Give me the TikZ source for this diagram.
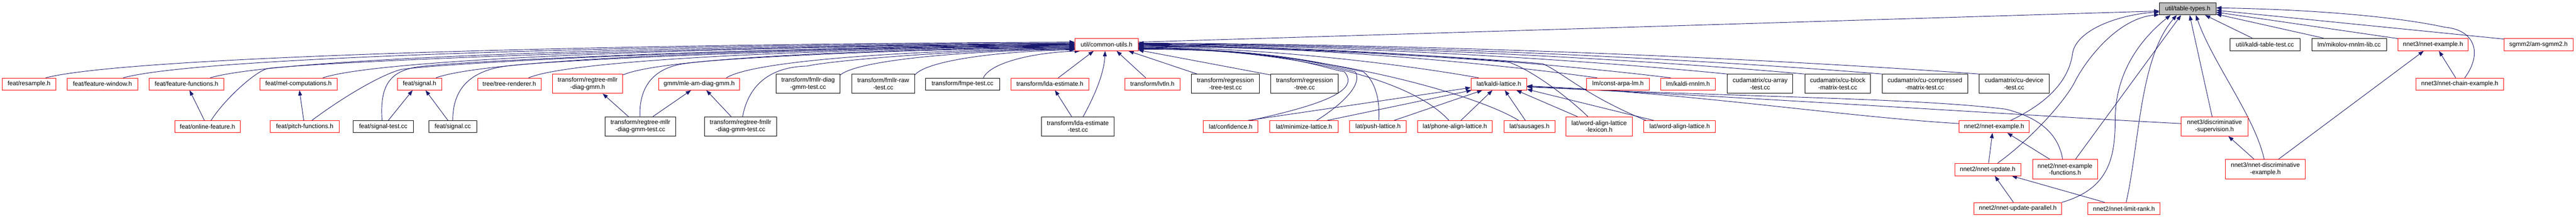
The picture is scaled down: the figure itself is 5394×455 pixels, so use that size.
\documentclass[tikz,border=0pt]{standalone}
\usepackage{fontspec}
\setmainfont{Liberation Sans}
\usetikzlibrary{arrows.meta,backgrounds,calc}
\definecolor{mblue}{HTML}{191970}
\definecolor{boxred}{HTML}{FF0000}
\definecolor{grayfill}{HTML}{BFBFBF}
\tikzset{
  base/.style={draw, line width=1pt, inner sep=0pt, fill=white, align=center,
    font=\fontsize{13}{15}\selectfont, minimum height=25pt},
  rbox/.style={base, draw=boxred},
  kbox/.style={base, draw=black},
  gbox/.style={base, draw=black, fill=grayfill},
  two/.style={minimum height=40pt},
  edge/.style={draw=mblue, line width=1pt, -{Triangle[length=11pt,width=8pt]}},
  fan/.style 2 args={to path={let \p1=(\tikztostart), \p2=(\tikztotarget) in
     .. controls ({\x1+#1*(\x2-\x1)},{\y1+#2*(\y2-\y1)}) and ({\x2-0.45*(\x2-\x1)},{\y2-0.05*(\y2-\y1)}) .. (\p2)}},
}
\begin{document}
\begin{tikzpicture}[x=1pt,y=-1pt]
\useasboundingbox (0,0) rectangle (5394,455);
% row A
\node[gbox, minimum width=118pt] (tt) at (4581,18.5) {util/table-types.h};
% row B
\node[rbox, minimum width=132pt, minimum height=26pt] (cu) at (2317,93) {util/common-utils.h};
\node[kbox, minimum width=147pt, minimum height=26pt] (ktt) at (4742.5,93) {util/kaldi-table-test.cc};
\node[kbox, minimum width=156pt, minimum height=26pt] (mik) at (4919,93) {lm/mikolov-rnnlm-lib.cc};
\node[rbox, minimum width=147pt, minimum height=26pt] (n3ex) at (5094.5,93) {nnet3/nnet-example.h};
\node[rbox, minimum width=145pt, minimum height=26pt] (sgmm) at (5315.5,93) {sgmm2/am-sgmm2.h};
% row C
\node[rbox, minimum width=112.5pt] (resample) at (60.75,175.5) {feat/resample.h};
\node[rbox, minimum width=147pt] (fwin) at (214.5,175.5) {feat/feature-window.h};
\node[rbox, minimum width=157pt] (ffun) at (390.5,175.5) {feat/feature-functions.h};
\node[rbox, minimum width=162pt] (mel) at (625,175.5) {feat/mel-computations.h};
\node[rbox, minimum width=93pt] (sigh) at (878.5,175.5) {feat/signal.h};
\node[rbox, minimum width=133pt] (tree) at (1066.5,175.5) {tree/tree-renderer.h};
\node[rbox, two, minimum width=147pt] (rmllr) at (1230.5,175) {transform/regtree-mllr\\-diag-gmm.h};
\node[rbox, minimum width=170pt] (mleam) at (1464,175.5) {gmm/mle-am-diag-gmm.h};
\node[kbox, two, minimum width=134pt] (fdiag) at (1692,175) {transform/fmllr-diag\\-gmm-test.cc};
\node[kbox, two, minimum width=131pt] (fraw) at (1849.5,175) {transform/fmllr-raw\\-test.cc};
\node[kbox, minimum width=155pt] (fmpe) at (2015.5,175.5) {transform/fmpe-test.cc};
\node[rbox, minimum width=163pt] (lda) at (2198.5,175.5) {transform/lda-estimate.h};
\node[rbox, minimum width=116pt] (lvtln) at (2413,175.5) {transform/lvtln.h};
\node[kbox, two, minimum width=142pt] (rtt) at (2566,175) {transform/regression\\-tree-test.cc};
\node[kbox, two, minimum width=141pt] (rtc) at (2731.5,175) {transform/regression\\-tree.cc};
\node[rbox, minimum width=117pt] (kl) at (3138.5,175.5) {lat/kaldi-lattice.h};
\node[rbox, minimum width=132pt] (carpa) at (3388,175.5) {lm/const-arpa-lm.h};
\node[rbox, minimum width=115pt] (krnn) at (3534.5,175.5) {lm/kaldi-rnnlm.h};
\node[kbox, two, minimum width=137pt] (cuarr) at (3685.5,175) {cudamatrix/cu-array\\-test.cc};
\node[kbox, two, minimum width=138pt] (cublk) at (3848,175) {cudamatrix/cu-block\\-matrix-test.cc};
\node[kbox, two, minimum width=179pt] (cucmp) at (4030.5,175) {cudamatrix/cu-compressed\\-matrix-test.cc};
\node[kbox, two, minimum width=147pt] (cudev) at (4217.5,175) {cudamatrix/cu-device\\-test.cc};
\node[rbox, minimum width=183pt] (chain) at (5150.5,175.5) {nnet3/nnet-chain-example.h};
% row D
\node[rbox, minimum width=137pt] (onl) at (434.5,264.5) {feat/online-feature.h};
\node[rbox, minimum width=144pt] (pitch) at (638,264.5) {feat/pitch-functions.h};
\node[kbox, minimum width=127pt] (sigt) at (802.5,264.5) {feat/signal-test.cc};
\node[kbox, minimum width=100pt] (sigc) at (948,264.5) {feat/signal.cc};
\node[kbox, two, minimum width=148pt] (rmllrt) at (1341,264) {transform/regtree-mllr\\-diag-gmm-test.cc};
\node[kbox, two, minimum width=151pt] (rfmllrt) at (1550.5,264) {transform/regtree-fmllr\\-diag-gmm-test.cc};
\node[kbox, two, minimum width=152pt] (ldat) at (2257,264) {transform/lda-estimate\\-test.cc};
\node[rbox, minimum width=114pt] (conf) at (2577,264.5) {lat/confidence.h};
\node[rbox, minimum width=143pt] (mini) at (2730.5,264.5) {lat/minimize-lattice.h};
\node[rbox, minimum width=119pt] (push) at (2885.5,264.5) {lat/push-lattice.h};
\node[rbox, minimum width=157pt] (phone) at (3046.5,264.5) {lat/phone-align-lattice.h};
\node[rbox, minimum width=107pt] (saus) at (3202.5,264.5) {lat/sausages.h};
\node[rbox, two, minimum width=139pt] (wall) at (3348.5,264) {lat/word-align-lattice\\-lexicon.h};
\node[rbox, minimum width=150pt] (wal) at (3517,264.5) {lat/word-align-lattice.h};
\node[rbox, minimum width=147pt] (n2ex) at (4175.5,264.5) {nnet2/nnet-example.h};
\node[rbox, two, minimum width=140pt] (disc) at (4637,264) {nnet3/discriminative\\-supervision.h};
% row E
\node[rbox, minimum width=138pt, minimum height=26pt] (upd) at (4162,354) {nnet2/nnet-update.h};
\node[rbox, minimum width=136pt, minimum height=41pt] (exf) at (4324,353.5) {nnet2/nnet-example\\-functions.h};
\node[rbox, minimum width=167pt, minimum height=41pt] (dex) at (4743.5,353.5) {nnet3/nnet-discriminative\\-example.h};
% row F
\node[rbox, minimum width=184pt] (par) at (4225,435.5) {nnet2/nnet-update-parallel.h};
\node[rbox, minimum width=151pt] (lrk) at (4447.5,435.5) {nnet2/nnet-limit-rank.h};

\begin{scope}[on background layer]
% left fan into common-utils
\draw[edge] ([xshift=35pt]resample.north) to[fan={0.08}{0.6}] ([yshift=5pt]cu.west);
\draw[edge] ([xshift=43.5pt]fwin.north) to[fan={0.08}{0.6}] ([yshift=3.5pt]cu.west);
\draw[edge] ([xshift=49.5pt]ffun.north) to[fan={0.08}{0.6}] ([yshift=2pt]cu.west);
\draw[edge] ([xshift=7.5pt]onl.north) .. controls +(25,-40) and +(-30,9) .. (560,143) to[fan={0.08}{0.3}] ([yshift=1pt]cu.west);
\draw[edge] ([xshift=51pt]mel.north) to[fan={0.08}{0.6}] (cu.west);
\draw[edge] ([xshift=15pt]pitch.north) .. controls +(60,-45) and +(-45,12) .. (840,145) to[fan={0.08}{0.3}] ([yshift=-1pt]cu.west);
\draw[edge] ([xshift=-2.5pt]sigt.north) .. controls +(-5,-72) and +(-65,8) .. (880,139) to[fan={0.08}{0.3}] ([yshift=-2pt]cu.west);
\draw[edge] ([xshift=34.5pt]sigh.north) to[fan={0.08}{0.6}] ([yshift=-3pt]cu.west);
\draw[edge] (sigc.north) .. controls +(0,-67) and +(-75,10) .. (1060,138) to[fan={0.08}{0.3}] ([yshift=-4pt]cu.west);
\draw[edge] ([xshift=40.5pt]tree.north) to[fan={0.08}{0.6}] ([yshift=-5pt]cu.west);
\draw[edge] ([yshift=-2pt]rmllr.north east) to[fan={0.08}{0.6}] ([yshift=-6pt]cu.west);
\draw[edge] ([xshift=-1pt]rmllrt.north) .. controls +(-2,-59) and +(-75,8) .. (1440,132) to[fan={0.08}{0.3}] ([yshift=-7pt]cu.west);
\draw[edge] ([xshift=57pt]mleam.north) to[fan={0.08}{0.6}] ([yshift=-8pt]cu.west);
\draw[edge] ([xshift=4.5pt]rfmllrt.north) .. controls +(10,-54) and +(-90,2) .. (1690,138) to[fan={0.08}{0.3}] ([yshift=-9pt]cu.west);
\draw[edge] ([yshift=-2pt]fdiag.north east) to[fan={0.08}{0.6}] ([yshift=-10pt]cu.west);
\draw[edge] ([yshift=-2pt]fraw.north east) to[fan={0.08}{0.6}] ([yshift=-11pt]cu.west);
\draw[edge] ([xshift=43.5pt]fmpe.north) to[fan={0.08}{0.6}] ([xshift=11pt]cu.south west);
% below common-utils
\draw[edge] ([xshift=17.5pt]lda.north) -- ([xshift=-27pt]cu.south);
\draw[edge] ([xshift=-13pt]ldat.north) -- ([xshift=10.5pt]lda.south);
\draw[edge] ([xshift=11pt]ldat.north) .. controls +(27,-49) and +(-2,44) .. ([xshift=-3pt]cu.south);
\draw[edge] ([xshift=-14pt]lvtln.north) -- ([xshift=21pt]cu.south);
\draw[edge] ([xshift=12pt]rtt.north west) -- ([xshift=46pt]cu.south);
\draw[edge] ([yshift=-2pt]rtc.north west) -- ([yshift=2pt]cu.south east);
% right fan into common-utils
\draw[edge] ([xshift=-42.5pt]kl.north) to[fan={0.15}{0.3}] ([yshift=-5pt]cu.east);
\draw[edge] ([xshift=-44pt]carpa.north) to[fan={0.15}{0.3}] ([yshift=-2pt]cu.east);
\draw[edge] ([xshift=-36.5pt]krnn.north) to[fan={0.15}{0.3}] ([yshift=-1pt]cu.east);
\draw[edge] (cuarr.north west) to[fan={0.15}{0.3}] (cu.east);
\draw[edge] (cublk.north west) to[fan={0.15}{0.3}] ([yshift=1pt]cu.east);
\draw[edge] (cucmp.north west) to[fan={0.15}{0.3}] ([yshift=2pt]cu.east);
\draw[edge] (cudev.north west) to[fan={0.15}{0.3}] ([yshift=3pt]cu.east);
\draw[edge] ([yshift=5pt]cu.east) -- ([yshift=-4.5pt]tt.west);
\draw[edge] ([xshift=5pt]wal.north west) .. controls +(-127,-52) and +(40,17) .. (3230,133) to[fan={0.1}{0.2}] ([yshift=-3pt]cu.east);
\draw[edge] ([xshift=-23.5pt]wall.north) .. controls +(-35,-34) and +(55,20) .. (3160,130) to[fan={0.1}{0.2}] ([yshift=-4pt]cu.east);
\draw[edge] ([xshift=-22.5pt]saus.north) .. controls +(-80,-50) and +(400,5) .. ([yshift=-6pt]cu.east);
\draw[edge] ([xshift=-12.5pt]phone.north) .. controls +(-74,-82) and +(350,5) .. ([yshift=-7pt]cu.east);
\draw[edge] ([xshift=1.5pt]push.north) .. controls +(3,-42) and +(25,20) .. (2855,150) .. controls +(-60,-12) and +(280,0) .. ([yshift=-8pt]cu.east);
\draw[edge] ([xshift=26.5pt]mini.north) .. controls +(43,-27) and +(17,30) .. (2838,150) .. controls +(-50,-12) and +(280,0) .. ([yshift=-9pt]cu.east);
\draw[edge] ([xshift=41pt]conf.north) .. controls +(172,-37) and +(30,35) .. (2815,150) .. controls +(-60,-12) and +(300,0) .. ([yshift=-10pt]cu.east);
% into kaldi-lattice
\draw[edge] ([xshift=36pt]conf.north) -- ([yshift=-7.5pt]kl.west);
\draw[edge] ([xshift=48.5pt]mini.north) -- ([xshift=2pt]kl.south west);
\draw[edge] ([xshift=33.5pt]push.north) -- ([xshift=-34.5pt]kl.south);
\draw[edge] ([xshift=12.5pt]phone.north) -- ([xshift=-13.5pt]kl.south);
\draw[edge] ([xshift=-8.5pt]saus.north) -- ([xshift=12.5pt]kl.south);
\draw[edge] ([xshift=-45.5pt]wall.north) -- ([xshift=36.5pt]kl.south);
\draw[edge] ([xshift=-54pt]wal.north) -- ([yshift=2pt]kl.south east);
\draw[edge] ([yshift=6.5pt]n2ex.west) .. controls +(-250,-15) and +(350,15) .. ([yshift=-4pt]kl.east);
\draw[edge] ([xshift=-5pt]exf.north) .. controls +(-10,-60) and +(60,15) .. (4200,228) .. controls +(-200,-25) and +(400,22) .. ([yshift=-5pt]kl.east);
\draw[edge] ([yshift=6pt]disc.west) .. controls +(-300,-15) and +(450,20) .. ([yshift=-6pt]kl.east);
% nnet2
\draw[edge] ([xshift=2pt]upd.north) -- ([xshift=-3.5pt]n2ex.south);
\draw[edge] ([xshift=-32pt]exf.north) -- ([xshift=27.5pt]n2ex.south);
\draw[edge] ([xshift=-9pt]par.north) -- ([xshift=15pt]upd.south);
\draw[edge] ([xshift=-40.5pt]lrk.north) -- ([xshift=-19pt]upd.south east);
\draw[edge] ([xshift=34.5pt]n2ex.north) .. controls +(100,-47) and +(-5,40) .. (4340,110) .. controls +(10,-50) and +(-80,5) .. ([yshift=-6.5pt]tt.west);
\draw[edge] ([xshift=21pt]upd.north) .. controls +(70,-50) and +(-20,40) .. (4345,170) .. controls +(20,-40) and +(-90,8) .. ([yshift=-12pt]tt.west);
\draw[edge] (par.north east) .. controls +(98,-28) and +(0,80) .. (4429,250) .. controls +(0,-110) and +(-50,40) .. ([xshift=-36pt]tt.south);
\draw[edge] ([xshift=4.5pt]lrk.north) .. controls +(28,-123) and +(-78,89) .. ([xshift=-23pt]tt.south);
\draw[edge] ([xshift=22pt]exf.north) -- ([xshift=-14pt]tt.south);
% nnet3 and others
\draw[edge] ([xshift=-5pt]disc.north) -- ([xshift=4pt]tt.south);
\draw[edge] ([xshift=-2.5pt]dex.north) .. controls +(-20,-90) and +(35,100) .. ([xshift=17pt]tt.south);
\draw[edge] ([xshift=27.5pt]dex.north) -- ([xshift=-19.5pt]n3ex.south);
\draw[edge] ([xshift=-23.5pt]dex.north) -- ([xshift=29pt]disc.south);
\draw[edge] ([xshift=-26.5pt]ktt.north) -- ([xshift=36pt]tt.south);
\draw[edge] ([xshift=-54pt]mik.north) -- ([yshift=2pt]tt.south east);
\draw[edge] ([yshift=-1pt]n3ex.north west) -- ([yshift=-7pt]tt.east);
\draw[edge] ([yshift=-2pt]sgmm.north west) -- ([yshift=-3pt]tt.east);
\draw[edge] ([xshift=10.5pt]chain.north) .. controls +(39,-53) and +(60,5) .. (5120,57) .. controls +(-100,-22) and +(200,3) .. ([yshift=2pt]tt.east);
\draw[edge] ([xshift=-8.5pt]chain.north) -- ([xshift=12.5pt]n3ex.south);
% left short edges
\draw[edge] ([xshift=-6.5pt]onl.north) -- ([xshift=6.5pt]ffun.south);
\draw[edge] ([xshift=-2pt]pitch.north) -- ([xshift=2pt]mel.south);
\draw[edge] ([xshift=10.5pt]sigt.north) -- ([xshift=-14.5pt]sigh.south);
\draw[edge] ([xshift=-10pt]sigc.north) -- ([xshift=12.5pt]sigh.south);
\draw[edge] ([xshift=-25pt]rmllrt.north) -- ([xshift=31.5pt]rmllr.south);
\draw[edge] ([xshift=26pt]rmllrt.north) -- ([xshift=-17pt]mleam.south);
\draw[edge] ([xshift=-19.5pt]rfmllrt.north) -- ([xshift=15pt]mleam.south);
\end{scope}
\end{tikzpicture}
\end{document}
